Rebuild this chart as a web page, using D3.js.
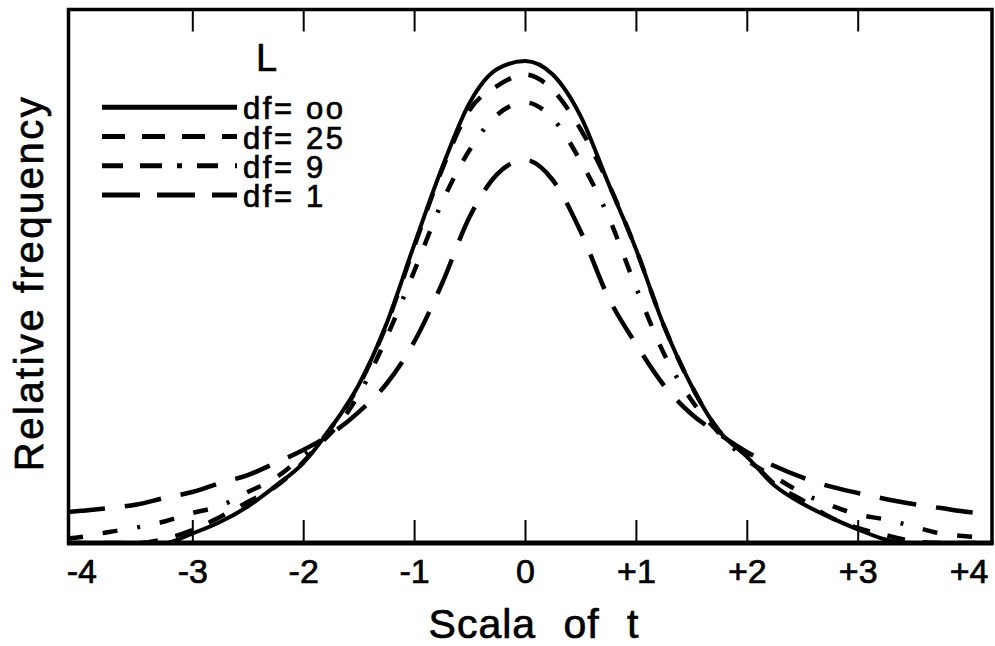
<!DOCTYPE html>
<html>
<head>
<meta charset="utf-8">
<script src="https://cdn.jsdelivr.net/npm/d3@7"></script>
<style>
  html, body { margin: 0; padding: 0; background: #fff; }
  svg { display: block; font-family: "Liberation Sans", Arial, Helvetica, sans-serif; }
  svg text { fill: #000; stroke: #000; stroke-width: 0.7px; }
</style>
</head>
<body>
<svg id="chart" width="995" height="646"></svg>
<script>
// t positions at which each density curve is sampled
const tValues = [-4.12, -4, -3.75, -3.5, -3.25, -3, -2.75, -2.5, -2.25, -2, -1.75, -1.5, -1.25, -1,
  -0.75, -0.5, -0.25, 0, 0.25, 0.5, 0.75, 1, 1.25, 1.5, 1.75, 2, 2.25, 2.5, 2.75, 3, 3.25, 3.5, 3.75, 4, 4.2];

// relative frequency of each curve at those t positions
const dfInfinity = [0, 0, 0, 0, 0, 0.0078, 0.0173, 0.0301, 0.047, 0.0659, 0.0948, 0.1302, 0.1805, 0.2455,
  0.3087, 0.3626, 0.3905, 0.3972, 0.386, 0.352, 0.2968, 0.2423, 0.1796, 0.1298, 0.0923, 0.0712, 0.0474,
  0.0325, 0.0211, 0.0113, 0.0029, 0, 0, 0, 0];
const df25 = [0, 0, 0, 0, 0.0033, 0.0107, 0.0214, 0.0338, 0.0464, 0.0667, 0.0948, 0.1294, 0.1796, 0.2439,
  0.3073, 0.3568, 0.3766, 0.386, 0.3733, 0.3411, 0.2966, 0.2423, 0.1796, 0.1298, 0.0923, 0.0717, 0.0486,
  0.0354, 0.0214, 0.0124, 0.0066, 0.0016, 0, 0, 0];
const df9 = [0.0037, 0.0049, 0.0091, 0.0128, 0.0177, 0.0247, 0.0305, 0.042, 0.0536, 0.0717, 0.0906, 0.122,
  0.1689, 0.2238, 0.2802, 0.3238, 0.3529, 0.363, 0.3498, 0.3148, 0.2694, 0.2109, 0.1566, 0.1178, 0.0906,
  0.0684, 0.0544, 0.0412, 0.0313, 0.0235, 0.0194, 0.0136, 0.0078, 0.0054, 0.0041];
const df1 = [0.0255, 0.0265, 0.0288, 0.0317, 0.0371, 0.042, 0.0494, 0.056, 0.0659, 0.0766, 0.0898, 0.1079,
  0.131, 0.1656, 0.2134, 0.2686, 0.304, 0.3156, 0.2991, 0.2571, 0.2027, 0.164, 0.1302, 0.1063, 0.0898,
  0.075, 0.0634, 0.054, 0.0466, 0.0412, 0.0363, 0.0321, 0.0288, 0.0255, 0.0239];

const seriesLabels = ["df= oo", "df= 25", "df= 9", "df= 1"];
const legendTitle = "L";
const tickValues = [-4, -3, -2, -1, 0, 1, 2, 3, 4];
const tickLabels = ["-4", "-3", "-2", "-1", "0", "+1", "+2", "+3", "+4"];
const innerTicks = [-3, -2, -1, 0, 1, 2, 3];
const xTitle = "Scala of t";
const yTitle = "Relative frequency";

// line appearance per series (curve dash, legend sample dash)
const seriesStyle = [
  { dash: null, legendDash: null, width: 4 },
  { dash: "18,18", legendDash: "23,17", width: 4.5 },
  { dash: "15,20,15,20,3,20", legendDash: "21,17,22,15,5,15", width: 4.5 },
  { dash: "37,20", legendDash: "38,17", width: 4.5 }
];

const series = [dfInfinity, df25, df9, df1].map((vals, i) => ({
  label: seriesLabels[i],
  style: seriesStyle[i],
  points: tValues.map((t, j) => ({ t, v: vals[j] }))
}));

const svg = d3.select("#chart");
const frame = { left: 68.5, right: 992, top: 9.5, bottom: 543 };

const x = d3.scaleLinear().domain([-4, 4]).range([81.4, 968.6]);
const y = d3.scaleLinear().domain([0, 0.44]).range([543, 9]);

// clip so curves stay within the frame
svg.append("defs").append("clipPath").attr("id", "plot-clip")
  .append("rect")
  .attr("x", frame.left).attr("y", frame.top)
  .attr("width", frame.right - frame.left).attr("height", frame.bottom - frame.top);

const line = d3.line()
  .x(d => x(d.t))
  .y(d => y(d.v))
  .curve(d3.curveMonotoneX);

const curves = svg.append("g").attr("clip-path", "url(#plot-clip)");
curves.selectAll("path")
  .data(series.slice().reverse())
  .join("path")
  .attr("d", d => line(d.points))
  .attr("fill", "none")
  .attr("stroke", "#000")
  .attr("stroke-width", d => d.style.width)
  .attr("stroke-dasharray", d => d.style.dash)
  .attr("stroke-linejoin", "round");

// frame
svg.append("rect")
  .attr("x", frame.left).attr("y", frame.top)
  .attr("width", frame.right - frame.left).attr("height", frame.bottom - frame.top)
  .attr("fill", "none").attr("stroke", "#000").attr("stroke-width", 3.5);
svg.append("line")
  .attr("x1", frame.left - 1.5).attr("x2", frame.right + 1.5)
  .attr("y1", frame.bottom).attr("y2", frame.bottom)
  .attr("stroke", "#000").attr("stroke-width", 5);

// inward ticks on bottom and top edges
const bottomTicks = svg.append("g")
  .attr("transform", `translate(0,${frame.bottom})`)
  .call(d3.axisBottom(x).tickValues(innerTicks).tickSize(-23).tickFormat(""));
const topTicks = svg.append("g")
  .attr("transform", `translate(0,${frame.top})`)
  .call(d3.axisTop(x).tickValues(innerTicks).tickSize(-22).tickFormat(""));
[bottomTicks, topTicks].forEach(g => {
  g.select(".domain").remove();
  g.selectAll(".tick line").attr("stroke", "#000").attr("stroke-width", 2);
});

// tick labels
const labelAxis = svg.append("g")
  .attr("transform", `translate(0,${frame.bottom})`)
  .call(d3.axisBottom(x).tickValues(tickValues).tickSize(0).tickPadding(16)
    .tickFormat((d, i) => tickLabels[i]));
labelAxis.select(".domain").remove();
labelAxis.selectAll("text")
  .attr("fill", "#000")
  .style("font-size", "34px")
  .style("font-family", "'Liberation Sans', Arial, sans-serif");

// axis titles
svg.append("text")
  .attr("x", 534).attr("y", 638)
  .attr("text-anchor", "middle")
  .style("font-size", "41px")
  .style("letter-spacing", "1px")
  .style("word-spacing", "15px")
  .text(xTitle);

svg.append("text")
  .attr("transform", "translate(43,283) rotate(-90)")
  .attr("text-anchor", "middle")
  .style("font-size", "40px")
  .style("letter-spacing", "2.5px")
  .text(yTitle);

// legend
const legend = svg.append("g");
legend.append("text")
  .attr("x", 256).attr("y", 71)
  .style("font-size", "38px")
  .text(legendTitle);

const rows = legend.selectAll("g.row")
  .data(series)
  .join("g")
  .attr("class", "row")
  .attr("transform", (d, i) => `translate(0,${107.3 + i * 29.2})`);
rows.append("line")
  .attr("x1", 102).attr("x2", 237)
  .attr("stroke", "#000")
  .attr("stroke-width", 5)
  .attr("stroke-dasharray", d => d.style.legendDash);
rows.append("text")
  .attr("x", 243).attr("y", 12)
  .style("font-size", "31px")
  .style("letter-spacing", "2.6px")
  .text(d => d.label);
</script>
</body>
</html>
